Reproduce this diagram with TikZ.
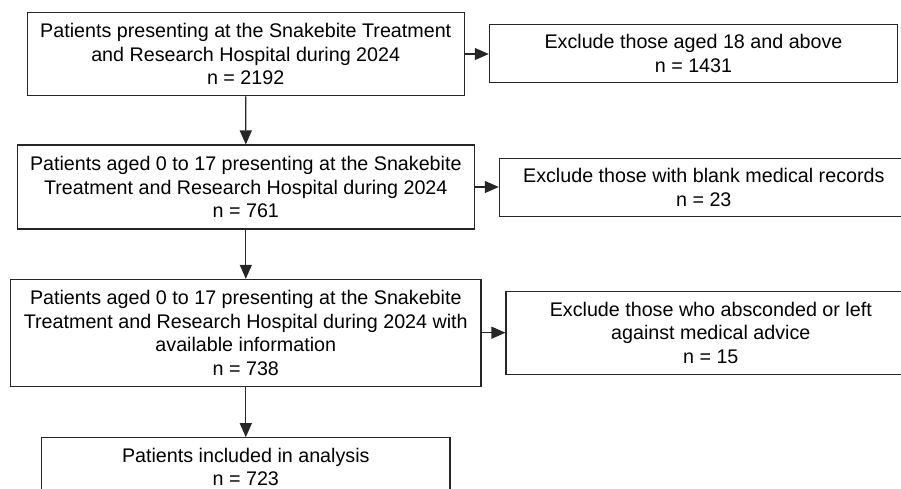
\documentclass[tikz,border=0pt]{standalone}
\usepackage{fontspec}
\setmainfont{Liberation Sans}
\usetikzlibrary{arrows.meta}
\tikzset{
  box/.style={draw=black!85, line width=1.1pt, rectangle, align=center, inner sep=0pt,
    font=\fontsize{19.7}{23.5}\selectfont},
  arr/.style={draw=black!85, line width=1.1pt, -{Triangle[length=14pt,width=12pt]}}
}
\begin{document}
\begin{tikzpicture}[x=1pt,y=-1pt]
\useasboundingbox (0,0) rectangle (901,488);
\clip (0,0) rectangle (901,488);
\fill[white] (0,0) rectangle (901,488);
\node[box, minimum width=436.7pt, minimum height=83.4pt] (b1) at (245.7,54)
  {Patients presenting at the Snakebite Treatment\\and Research Hospital during 2024\\n = 2192};
\node[box, minimum width=408.4pt, minimum height=58pt] (b2) at (693.5,53.5)
  {Exclude those aged 18 and above\\n = 1431};
\node[box, minimum width=457pt, minimum height=84pt] (b3) at (245.8,187)
  {Patients aged 0 to 17 presenting at the Snakebite\\Treatment and Research Hospital during 2024\\n = 761};
\node[box, minimum width=409pt, minimum height=58.4pt] (b4) at (703.8,187.5)
  {Exclude those with blank medical records\\n = 23};
\node[box, minimum width=470.3pt, minimum height=106.7pt] (b5) at (245.8,332.7)
  {Patients aged 0 to 17 presenting at the Snakebite\\Treatment and Research Hospital during 2024 with\\available information\\n = 738};
\node[box, minimum width=409.6pt, minimum height=83.3pt] (b6) at (710.8,332.7)
  {Exclude those who absconded or left\\against medical advice\\n = 15};
\node[box, minimum width=408.3pt, minimum height=58pt] (b7) at (245.8,466.7)
  {Patients included in analysis\\n = 723};
\draw[arr] (b1.south) -- (b3.north);
\draw[arr] (b3.south) -- (b5.north);
\draw[arr] (b5.south) -- (b7.north);
\draw[arr] (b1.east) -- (b1.east -| b2.west);
\draw[arr] (b3.east) -- (b3.east -| b4.west);
\draw[arr] (b5.east) -- (b5.east -| b6.west);
\end{tikzpicture}
\end{document}
